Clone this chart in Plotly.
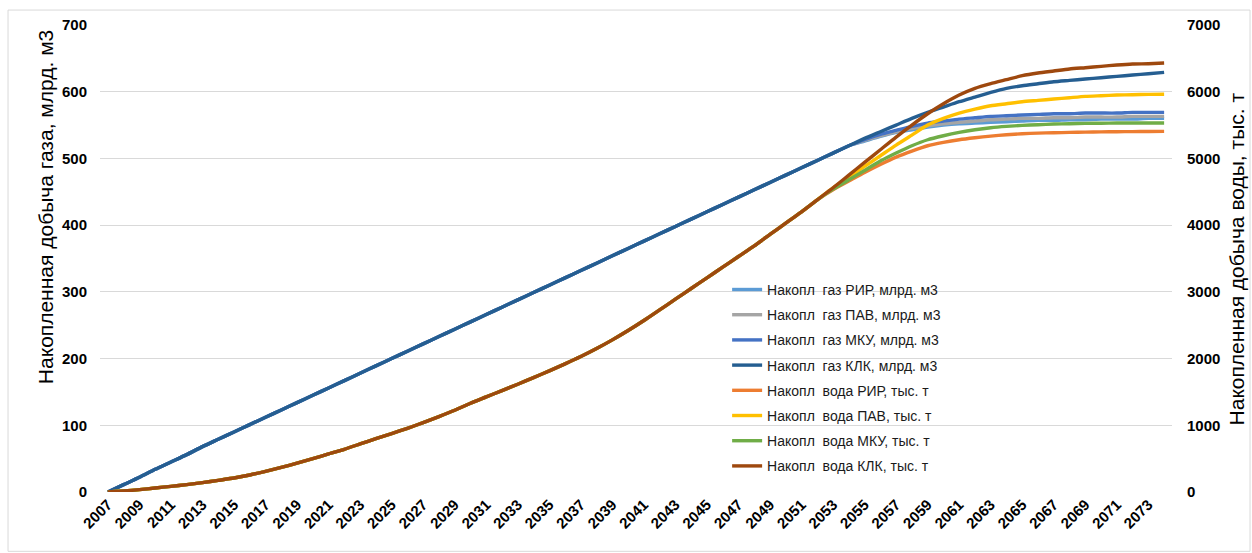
import plotly.graph_objects as go

years = list(range(2007, 2075))

gas_klk = [0, 11, 22, 34, 45, 56, 68, 79, 90, 101, 112, 123, 134, 145, 156, 167, 178, 189, 200, 211,
           222, 233, 244, 255, 266, 277, 288, 299, 310, 321, 332, 343, 354, 365, 376, 387, 398, 409,
           420, 431, 442, 453, 464, 475, 486, 497, 508, 519, 530, 540, 550, 560, 569, 577, 585, 592,
           599, 605, 609, 612, 615, 617, 619, 621, 623, 625, 627, 629]
gas_common = gas_klk[:48]  # 2007..2054
gas_mku = gas_common + [528, 536, 542, 548, 553, 556, 559, 561, 563, 564, 565, 566, 567, 567, 568, 568, 568, 569, 569, 569]
gas_pav = gas_common + [527, 534, 540, 545, 549, 552, 554, 556, 558, 559, 560, 560, 561, 561, 562, 562, 562, 563, 563, 563]
gas_rir = gas_common + [526, 533, 539, 543, 547, 550, 552, 553, 554, 555, 556, 557, 557, 558, 558, 559, 559, 559, 560, 560]

water_klk = [0, 15, 35, 60, 85, 110, 140, 175, 210, 255, 310, 370, 432, 500, 570, 640, 720, 800, 875, 955,
             1040, 1130, 1225, 1330, 1425, 1520, 1615, 1715, 1815, 1920, 2030, 2150, 2280, 2420, 2570,
             2730, 2890, 3050, 3210, 3370, 3530, 3690, 3860, 4030, 4200, 4380, 4560, 4750, 4940, 5130,
             5320, 5500, 5670, 5820, 5950, 6050, 6120, 6180, 6240, 6280, 6310, 6340, 6360, 6380, 6400,
             6415, 6420, 6430]
water_common = water_klk[:46]  # 2007..2052
water_pav = water_common + [4560, 4720, 4880, 5040, 5200, 5350, 5500, 5600, 5680, 5740, 5790, 5820, 5850, 5870, 5890, 5910, 5930, 5940, 5950, 5955, 5960, 5963]
water_mku = water_common + [4540, 4680, 4820, 4960, 5080, 5190, 5280, 5340, 5390, 5430, 5460, 5480, 5495, 5505, 5515, 5520, 5525, 5528, 5530, 5530, 5530, 5530]
water_rir = water_common + [4530, 4660, 4790, 4910, 5020, 5110, 5190, 5240, 5280, 5310, 5335, 5355, 5370, 5380, 5385, 5390, 5395, 5398, 5400, 5402, 5404, 5405]

tick_years = list(range(2007, 2075, 2))

series = [
    ("Накопл  газ РИР, млрд. м3", gas_rir, "#5B9BD5", "y"),
    ("Накопл  газ ПАВ, млрд. м3", gas_pav, "#A5A5A5", "y"),
    ("Накопл  газ МКУ, млрд. м3", gas_mku, "#4472C4", "y"),
    ("Накопл  газ КЛК, млрд. м3", gas_klk, "#255E91", "y"),
    ("Накопл  вода РИР, тыс. т", water_rir, "#ED7D31", "y2"),
    ("Накопл  вода ПАВ, тыс. т", water_pav, "#FFC000", "y2"),
    ("Накопл  вода МКУ, тыс. т", water_mku, "#70AD47", "y2"),
    ("Накопл  вода КЛК, тыс. т", water_klk, "#9E480E", "y2"),
]

fig = go.Figure()
for i, (name, vals, color, yax) in enumerate(series):
    fig.add_trace(go.Scatter(x=years, y=vals, name=name, mode="lines", yaxis=yax,
                             line=dict(color=color, width=3.4, shape="spline", smoothing=0.6),
                             legendgroup=f"g{i}"))

font_family = "Liberation Sans, Arial, sans-serif"
tick_font = dict(size=15, family=font_family, color="#000000", weight="bold")

fig.update_layout(
    width=1252, height=553,
    margin=dict(l=100, r=80, t=25, b=61, autoexpand=False),
    paper_bgcolor="white", plot_bgcolor="white",
    font=dict(family=font_family, color="#000000"),
    showlegend=True,
    legend=dict(x=0.585, y=0.467, xanchor="left", yanchor="top", bgcolor="rgba(0,0,0,0)",
                font=dict(size=14, color="#1a1a1a"), tracegroupgap=4, itemwidth=30),
    xaxis=dict(range=[2006.5, 2074.5], tickmode="array", tickvals=tick_years,
               ticktext=[str(y) for y in tick_years], tickangle=-45, showgrid=False,
               showline=False, zeroline=False, ticks="", automargin=False,
               tickfont=tick_font),
    yaxis=dict(range=[0, 700], dtick=100, showgrid=True, gridcolor="#D9D9D9", gridwidth=1,
               zeroline=False, showline=False, ticks="", ticklabelstandoff=12, automargin=False,
               tickfont=tick_font),
    yaxis2=dict(range=[0, 7000], dtick=1000, overlaying="y", side="right", showgrid=False,
                zeroline=False, showline=False, ticks="", ticklabelstandoff=14, automargin=False,
                tickfont=tick_font),
    annotations=[
        dict(text="Накопленная добыча газа, млрд. м3", textangle=-90, xref="paper", yref="paper",
             x=-0.0513, y=0.61, xanchor="center", yanchor="middle", showarrow=False,
             font=dict(size=21, family=font_family, color="#000000")),
        dict(text="Накопленная добыча воды, тыс. т", textangle=-90, xref="paper", yref="paper",
             x=1.0606, y=0.50, xanchor="center", yanchor="middle", showarrow=False,
             font=dict(size=21, family=font_family, color="#000000")),
    ],
    shapes=[
        dict(type="rect", xref="paper", yref="paper", x0=-0.0858, x1=1.0728, y0=-0.127, y1=1.032,
             line=dict(color="#D9D9D9", width=1), fillcolor="rgba(0,0,0,0)", layer="below"),
    ],
)

fig.write_html("out.html", config={"displayModeBar": False},
               post_script="document.body.style.margin='0';document.body.style.overflow='hidden';")
